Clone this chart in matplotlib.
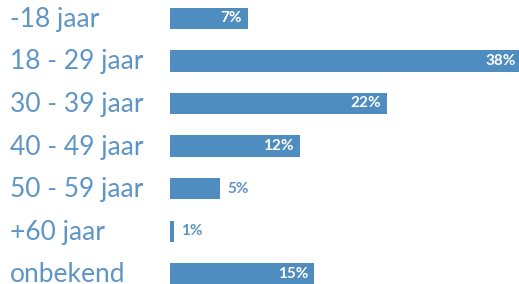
import matplotlib
matplotlib.use("Agg")
import matplotlib.pyplot as plt

categories = ["-18 jaar", "18 - 29 jaar", "30 - 39 jaar", "40 - 49 jaar",
              "50 - 59 jaar", "+60 jaar", "onbekend"]
bar_lengths = [7.8, 35.2, 21.7, 13.0, 5.0, 0.4, 14.4]
value_labels = ["7%", "38%", "22%", "12%", "5%", "1%", "15%"]

BAR = "#4f8dc1"
TXT = "#5d95c6"

W, H = 519, 284
fig = plt.figure(figsize=(W / 100, H / 100), dpi=100)
ax = fig.add_axes([170 / W, 0, 349 / W, 1])
ax.set_xlim(0, 34.9)
step = 42.6
ax.set_ylim((H - 18.3) / step, -18.3 / step)
for s in ax.spines.values():
    s.set_visible(False)
ax.set_xticks([])
ax.set_yticks([])

y = list(range(len(categories)))
ax.barh(y, bar_lengths, height=0.5, color=BAR)

fam = ["Lato", "DejaVu Sans"]
tr = ax.get_yaxis_transform()
for i, (cat, v, lab) in enumerate(zip(categories, bar_lengths, value_labels)):
    ax.annotate(cat, xy=(0, i), xycoords=tr, xytext=(-160, -1), textcoords="offset pixels",
                ha="left", va="center", fontsize=19, color=TXT, family=fam,
                annotation_clip=False)
    if v >= 6:
        ax.annotate(lab, xy=(v, i), xytext=(-6, 0), textcoords="offset pixels",
                    ha="right", va="center", fontsize=11, color="white",
                    fontweight="bold", family=fam, annotation_clip=False)
    else:
        ax.annotate(lab, xy=(v, i), xytext=(7, 0), textcoords="offset pixels",
                    ha="left", va="center", fontsize=11, color=TXT,
                    fontweight="bold", family=fam, annotation_clip=False)

fig.savefig("out.png", dpi=100)
